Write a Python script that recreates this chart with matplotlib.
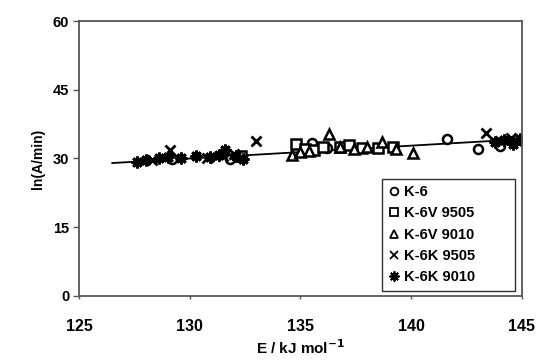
import matplotlib
matplotlib.use("Agg")
import matplotlib.pyplot as plt
import numpy as np

plt.rcParams['font.family'] = ['Liberation Sans', 'DejaVu Sans']

# Data
k6_E = [129.2, 131.8, 132.2, 135.5, 136.2, 141.6, 143.0, 144.0]
k6_ln = [29.8, 29.9, 30.6, 33.4, 32.2, 34.2, 32.0, 32.8]

k6v9505_E = [132.3, 134.8, 135.2, 135.6, 136.0, 136.8, 137.2, 137.8, 138.5, 139.2]
k6v9505_ln = [30.5, 33.2, 32.0, 31.8, 32.5, 32.4, 33.0, 32.2, 32.3, 32.5]

k6v9010_E = [134.6, 135.0, 135.4, 136.3, 136.8, 137.4, 138.0, 138.7, 139.3, 140.1]
k6v9010_ln = [30.8, 31.3, 31.6, 35.3, 32.4, 32.0, 32.5, 33.5, 32.1, 31.2]

k6k9505_E = [128.3, 129.1, 130.8, 131.5, 132.0, 133.0, 143.4, 144.0, 144.5, 144.8]
k6k9505_ln = [29.7, 31.9, 30.2, 30.5, 31.0, 33.8, 35.5, 33.8, 34.4, 33.9]

k6k9010_E = [127.6, 128.0, 128.6, 129.0, 129.6, 130.3, 130.9, 131.3, 131.6, 132.1, 132.4,
             143.8, 144.2, 144.6, 144.9]
k6k9010_ln = [29.2, 29.6, 30.0, 30.4, 30.0, 30.6, 30.3, 30.8, 31.8, 30.5, 29.8,
              33.5, 34.0, 33.2, 34.2]

fit_E = [126.5, 145.0]
fit_ln = [29.0, 34.2]

xticks = [125, 130, 135, 140, 145]
yticks = [0, 15, 30, 45, 60]

fig = plt.figure(figsize=(5.38, 3.63), dpi=100)
ax = fig.add_axes([0.147, 0.185, 0.823, 0.757])

ax.plot(fit_E, fit_ln, color='black', lw=1.3, zorder=1)

ms = 6.5
mew = 1.8
ax.plot(k6_E, k6_ln, ls='none', marker='o', mfc='white', mec='black', ms=ms, mew=mew, label='K-6')
ax.plot(k6v9505_E, k6v9505_ln, ls='none', marker='s', mfc='white', mec='black', ms=ms, mew=mew, label='K-6V 9505')
ax.plot(k6v9010_E, k6v9010_ln, ls='none', marker='^', mfc='white', mec='black', ms=ms, mew=mew, label='K-6V 9010')
ax.plot(k6k9505_E, k6k9505_ln, ls='none', marker='x', color='black', ms=ms, mew=2.0, label='K-6K 9505')
ax.plot(k6k9010_E, k6k9010_ln, ls='none', marker=(8, 2, 0), color='black', ms=ms + 2, mew=2.0, label='K-6K 9010')

ax.set_xlim(125, 145)
ax.set_ylim(0, 60)
ax.set_xticks(xticks)
ax.set_yticks(yticks)
ax.set_xticklabels([str(t) for t in xticks], fontsize=11.5, fontweight='bold')
ax.set_yticklabels([str(t) for t in yticks], fontsize=10.5, fontweight='bold')
ax.tick_params(axis='x', length=2, width=1, color='#555555', pad=15)
ax.tick_params(axis='y', length=4, width=1, color='#555555', pad=3)

for s in ax.spines.values():
    s.set_color('#555555')
    s.set_linewidth(1.3)

ax.set_xlabel('E / kJ mol$^{\\mathbf{-1}}$', fontsize=11, fontweight='bold', labelpad=3)
ax.set_ylabel('ln(A/min)', fontsize=10, fontweight='bold', labelpad=6)

leg = ax.legend(loc='lower left', bbox_to_anchor=(0.685, 0.018, 0.299, 0.469), mode='expand',
                frameon=True, fancybox=False, handlelength=0.7, handletextpad=0.3,
                borderpad=0.45, labelspacing=0.5, borderaxespad=0, markerscale=0.85,
                prop={'weight': 'bold', 'size': 10.5})
leg.get_frame().set_edgecolor('black')
leg.get_frame().set_linewidth(1.0)
for h in leg.legend_handles:
    h.set_markeredgewidth(1.3)

fig.savefig('out.png', dpi=100)
